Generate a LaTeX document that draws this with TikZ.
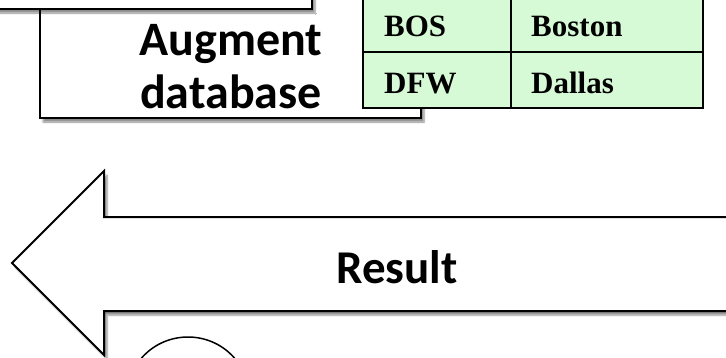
\documentclass[tikz,border=0pt]{standalone}
\usepackage{fontspec}
\setmainfont{Liberation Serif}
\newfontfamily\calib{Carlito}
\usetikzlibrary{shadows.blur}
\definecolor{tabgreen}{RGB}{213,250,213}
\tikzset{
  boxshape/.style={draw=black, line width=2pt, fill=white,
    blur shadow={shadow xshift=3pt, shadow yshift=-4pt, shadow blur steps=6, shadow opacity=45}},
  bigtxt/.style={font=\calib\bfseries\fontsize{48}{53}\selectfont, inner sep=0pt},
  celltxt/.style={font=\bfseries\fontsize{31}{36}\selectfont, inner sep=0pt, anchor=base west},
  cellline/.style={draw=black, line width=2pt},
}
\begin{document}
\begin{tikzpicture}[x=1pt,y=-1pt]
\useasboundingbox (0,0) rectangle (726,357);
% Augment database box
\path[boxshape] (40,-20) rectangle (421,118);
% upper (cropped) box
\path[boxshape] (-20,-40) rectangle (312,9);
\node[bigtxt, anchor=base] (aug) at (231,55) {Augment};
\node[bigtxt, anchor=base] (db) at (231,108) {database};
% table
\fill[tabgreen] (363,-10) rectangle (703,108);
\draw[cellline] (363,-10) -- (363,108) -- (703,108) -- (703,-10);
\draw[cellline] (363,52) -- (703,52);
\draw[cellline] (511,-10) -- (511,108);
\node[celltxt] (bos) at (384,36) {BOS};
\node[celltxt] (boston) at (531,36) {Boston};
\node[celltxt] (dfw) at (384,93) {DFW};
\node[celltxt] (dallas) at (531,93) {Dallas};
% result arrow
\path[boxshape, line join=miter] (12,263) -- (104,171) -- (104,217) -- (760,217) -- (760,311) -- (104,311) -- (104,355) -- cycle;
\node[bigtxt, font=\calib\bfseries\fontsize{47}{53}\selectfont, anchor=base] (res) at (397,283) {Result};
% circle
\draw[line width=1.5pt, fill=white] (188,399) circle (62);
\end{tikzpicture}
\end{document}
